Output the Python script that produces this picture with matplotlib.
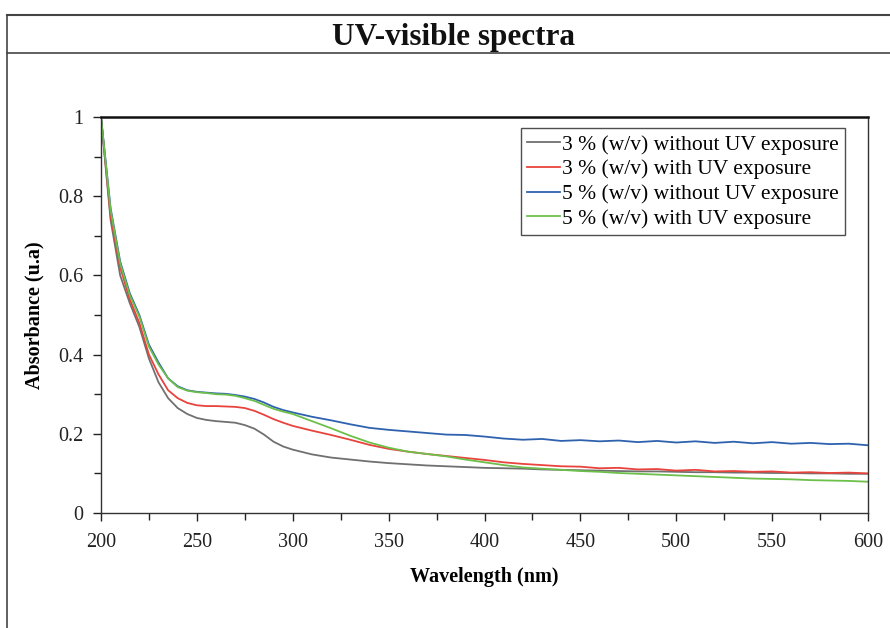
import numpy as np
import matplotlib
matplotlib.use("Agg")
import matplotlib.pyplot as plt
from matplotlib.ticker import MultipleLocator
from matplotlib.lines import Line2D

# Dados (comprimento de onda em nm, absorbancia u.a)
wavelength = [200, 205, 210, 215, 220, 225, 230, 235, 240, 245, 250, 255, 260,
              265, 270, 275, 280, 285, 290, 295, 300,
              310, 320, 330, 340, 350, 360, 370, 380, 390, 400, 410, 420, 430,
              440, 450, 460, 470, 480, 490, 500, 510, 520, 530, 540, 550, 560,
              570, 580, 590, 600]

abs_3_no_uv = [1.0, 0.74, 0.60, 0.53, 0.47, 0.39, 0.33, 0.29, 0.265, 0.25,
               0.24, 0.235, 0.232, 0.23, 0.228, 0.222, 0.213, 0.198, 0.18,
               0.168, 0.16,
               0.148, 0.14, 0.135, 0.13, 0.126, 0.123, 0.12, 0.118, 0.116,
               0.114, 0.113, 0.112, 0.11, 0.109, 0.108, 0.107, 0.106, 0.105,
               0.105, 0.104, 0.103, 0.103, 0.102, 0.102, 0.101, 0.101, 0.100,
               0.100, 0.099, 0.099]

abs_3_uv = [1.0, 0.75, 0.62, 0.54, 0.48, 0.40, 0.35, 0.31, 0.29, 0.278,
            0.272, 0.27, 0.27, 0.269, 0.268, 0.265, 0.258, 0.248, 0.237,
            0.228, 0.22,
            0.208, 0.197, 0.185, 0.172, 0.162, 0.155, 0.149, 0.144, 0.139,
            0.134, 0.128, 0.124, 0.121, 0.118, 0.117, 0.113, 0.114, 0.110,
            0.111, 0.107, 0.109, 0.105, 0.106, 0.104, 0.105, 0.102, 0.103,
            0.101, 0.102, 0.100]

abs_5_no_uv = [1.0, 0.77, 0.635, 0.555, 0.50, 0.425, 0.38, 0.34, 0.32, 0.31,
               0.306, 0.304, 0.302, 0.301, 0.298, 0.294, 0.288, 0.279, 0.268,
               0.26, 0.254,
               0.243, 0.234, 0.224, 0.215, 0.21, 0.206, 0.202, 0.198, 0.197,
               0.193, 0.188, 0.185, 0.187, 0.182, 0.184, 0.181, 0.183, 0.179,
               0.182, 0.178, 0.181, 0.177, 0.180, 0.176, 0.179, 0.175, 0.177,
               0.174, 0.175, 0.171]

abs_5_uv = [1.0, 0.765, 0.63, 0.55, 0.496, 0.42, 0.375, 0.34, 0.318, 0.309,
            0.305, 0.303, 0.30, 0.299, 0.296, 0.29, 0.283, 0.273, 0.263,
            0.256, 0.25,
            0.232, 0.214, 0.195, 0.178, 0.165, 0.155, 0.149, 0.143, 0.135,
            0.128, 0.121, 0.115, 0.112, 0.109, 0.106, 0.104, 0.101, 0.099,
            0.097, 0.095, 0.093, 0.091, 0.089, 0.087, 0.086, 0.085, 0.083,
            0.082, 0.081, 0.079]

labels = ["3 % (w/v) without UV exposure",
          "3 % (w/v) with UV exposure",
          "5 % (w/v) without UV exposure",
          "5 % (w/v) with UV exposure"]
colors = ["#707070", "#e8433c", "#2f62ae", "#6cc04a"]

plt.rcParams["font.family"] = ["Liberation Serif", "DejaVu Serif"]

fig = plt.figure(figsize=(8.9, 6.28), dpi=100)
ax = fig.add_axes([101 / 890, 1 - 513 / 628, 767 / 890, 396 / 628])

series = [abs_3_no_uv, abs_3_uv, abs_5_no_uv, abs_5_uv]
for vals, lbl, cor in zip(series, labels, colors):
    ax.plot(wavelength, vals, color=cor, lw=1.3, label=lbl)

ax.set_xlim(200, 600)
ax.set_ylim(0, 1)
ax.xaxis.set_major_locator(MultipleLocator(50))
ax.xaxis.set_minor_locator(MultipleLocator(25))
ax.yaxis.set_minor_locator(MultipleLocator(0.1))
ax.set_yticks([0, 0.2, 0.4, 0.6, 0.8, 1.0])
ax.set_yticklabels(["0", "0.2", "0.4", "0.6", "0.8", "1"])
ax.tick_params(which="major", direction="out", length=5.5, width=1.0,
               labelsize=14.5, colors="#222222")
ax.tick_params(which="minor", direction="out", length=5, width=1.0,
               colors="#222222")
ax.tick_params(axis="y", pad=7)
ax.tick_params(axis="x", pad=9)

for side in ["left", "bottom", "right"]:
    ax.spines[side].set_color("#333333")
    ax.spines[side].set_linewidth(1.0)
ax.spines["top"].set_color("#111111")
ax.spines["top"].set_linewidth(1.8)

ax.set_xlabel("Wavelength (nm)", fontsize=14.5, fontweight="bold",
              labelpad=11)
ax.set_ylabel("Absorbance (u.a)", fontsize=14.5, fontweight="bold",
              labelpad=10)

leg = ax.legend(loc="upper right", bbox_to_anchor=(0.970, 0.972),
                borderaxespad=0, fontsize=15.5, frameon=True, fancybox=False,
                handlelength=1.5, handletextpad=0.1, borderpad=0.3,
                labelspacing=0.22)
leg.get_frame().set_edgecolor("#222222")
leg.get_frame().set_linewidth(1.0)

# Moldura externa e faixa do titulo
fig.add_artist(Line2D([7 / 890, 7 / 890], [0, 1 - 15 / 628],
                      transform=fig.transFigure, color="#444444", lw=1.2))
fig.add_artist(Line2D([7 / 890, 1], [1 - 15 / 628, 1 - 15 / 628],
                      transform=fig.transFigure, color="#444444", lw=1.5))
fig.add_artist(Line2D([7 / 890, 1], [1 - 53 / 628, 1 - 53 / 628],
                      transform=fig.transFigure, color="#444444", lw=1.2))
fig.text(454 / 890, 1 - 37 / 628, "UV-visible spectra", ha="center",
         va="center", fontsize=22.5, fontweight="bold", color="#111111")

fig.savefig("out.png", dpi=100, facecolor="white")
